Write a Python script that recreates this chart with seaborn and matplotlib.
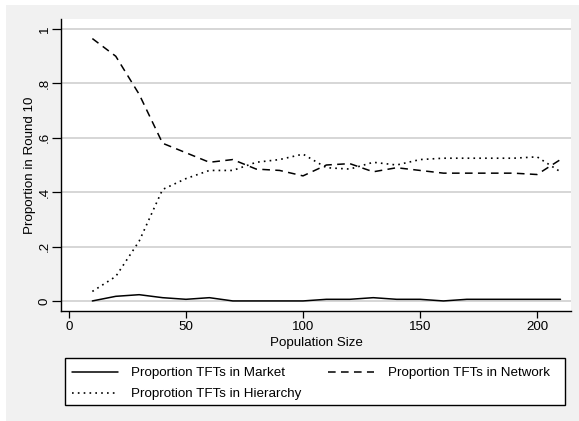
import matplotlib
matplotlib.use("Agg")
import matplotlib.pyplot as plt
from matplotlib.patches import Rectangle
import seaborn as sns
import pandas as pd

pop_size = [10, 20, 30, 40, 50, 60, 70, 80, 90, 100, 110, 120, 130, 140, 150, 160, 170, 180, 190, 200, 210]
market = [0.0, 0.017, 0.023, 0.012, 0.006, 0.012, 0.0, 0.0, 0.0, 0.0, 0.006, 0.006, 0.012, 0.006, 0.006,
          0.0, 0.006, 0.006, 0.006, 0.006, 0.006]
network = [0.965, 0.90, 0.76, 0.58, 0.545, 0.51, 0.52, 0.485, 0.48, 0.46, 0.50, 0.505, 0.475, 0.49, 0.48,
           0.47, 0.47, 0.47, 0.47, 0.465, 0.52]
hierarchy = [0.035, 0.09, 0.22, 0.41, 0.45, 0.48, 0.48, 0.51, 0.52, 0.54, 0.49, 0.485, 0.51, 0.50, 0.52,
             0.525, 0.525, 0.525, 0.525, 0.53, 0.475]

labels = ["Proportion TFTs in Market", "Proportion TFTs in Network", "Proprotion TFTs in Hierarchy"]
x_ticks = [0, 50, 100, 150, 200]
y_ticks = [0, 0.2, 0.4, 0.6, 0.8, 1.0]
y_ticklabels = ["0", ".2", ".4", ".6", ".8", "1"]

sns.set_theme(style="white")
plt.rcParams['font.family'] = ['Liberation Sans', 'DejaVu Sans']
FS = 9.6

fig = plt.figure(figsize=(5.79, 4.21), dpi=100, facecolor="white")
W, H = 579, 421
# outer graph region
fig.patches.append(Rectangle((6 / W, 0), 1 - 6 / W, (H - 5) / H,
                             transform=fig.transFigure, facecolor="#f1f1f1", edgecolor="none", zorder=-5))
# legend frame
fig.patches.append(Rectangle((65 / W, (H - 405) / H), (565 - 65) / W, (405 - 358) / H,
                             transform=fig.transFigure, facecolor="white", edgecolor="black",
                             lw=1.0, zorder=-4))

ax = fig.add_axes([61 / W, (H - 311) / H, (571 - 61) / W, (311 - 19) / H])
ax.set_facecolor("white")

df = pd.DataFrame({"x": pop_size, "market": market, "network": network, "hierarchy": hierarchy})

# horizontal grid lines at the y ticks
for yv in y_ticks:
    ax.axhline(yv, color="#cfcfcf", lw=1.2, zorder=0.5)

sns.lineplot(data=df, x="x", y="market", ax=ax, color="black", lw=1.1, label=labels[0], zorder=2)
sns.lineplot(data=df, x="x", y="hierarchy", ax=ax, color="black", lw=1.2, label=labels[2],
             linestyle=(0, (1, 2.5)), zorder=2)
sns.lineplot(data=df, x="x", y="network", ax=ax, color="black", lw=1.1, label=labels[1],
             linestyle=(0, (5, 3.5)), zorder=2)

ax.set_xlim(-3.4, 214.5)
ax.set_ylim(-0.037, 1.037)
ax.set_xticks(x_ticks)
ax.set_xticklabels([str(v) for v in x_ticks], fontsize=FS)
ax.set_yticks(y_ticks)
ax.set_yticklabels(y_ticklabels, fontsize=FS, rotation=90, va="center")
ax.tick_params(axis="x", which="both", direction="out", length=5, width=0.9, color="black",
               bottom=True, pad=2, labelcolor="black")
ax.tick_params(axis="y", which="both", direction="out", length=6.5, width=0.9, color="black",
               left=True, pad=1, labelcolor="black")
ax.grid(False)
for s in ["top", "right"]:
    ax.spines[s].set_visible(False)
for s in ["left", "bottom"]:
    ax.spines[s].set_color("black")
    ax.spines[s].set_linewidth(1.0)
    ax.spines[s].set_zorder(3)

ax.set_xlabel("Population Size", fontsize=FS, color="black", labelpad=3)
ax.set_ylabel("Proportion in Round 10", fontsize=FS, color="black", labelpad=2)

handles, labs = ax.get_legend_handles_labels()
ax.get_legend().remove()
order = [labs.index(labels[0]), labs.index(labels[2]), labs.index(labels[1])]
leg = fig.legend([handles[i] for i in order], [labs[i] for i in order],
                 loc="upper left", bbox_to_anchor=(72 / W, (H - 367) / H),
                 ncol=2, fontsize=FS, frameon=False,
                 handlelength=3.45, handletextpad=1.0, columnspacing=2.0, borderpad=0,
                 labelspacing=0.65, borderaxespad=0)
for t in leg.get_texts():
    t.set_color("black")

fig.savefig("out.png", dpi=100, facecolor="white")
